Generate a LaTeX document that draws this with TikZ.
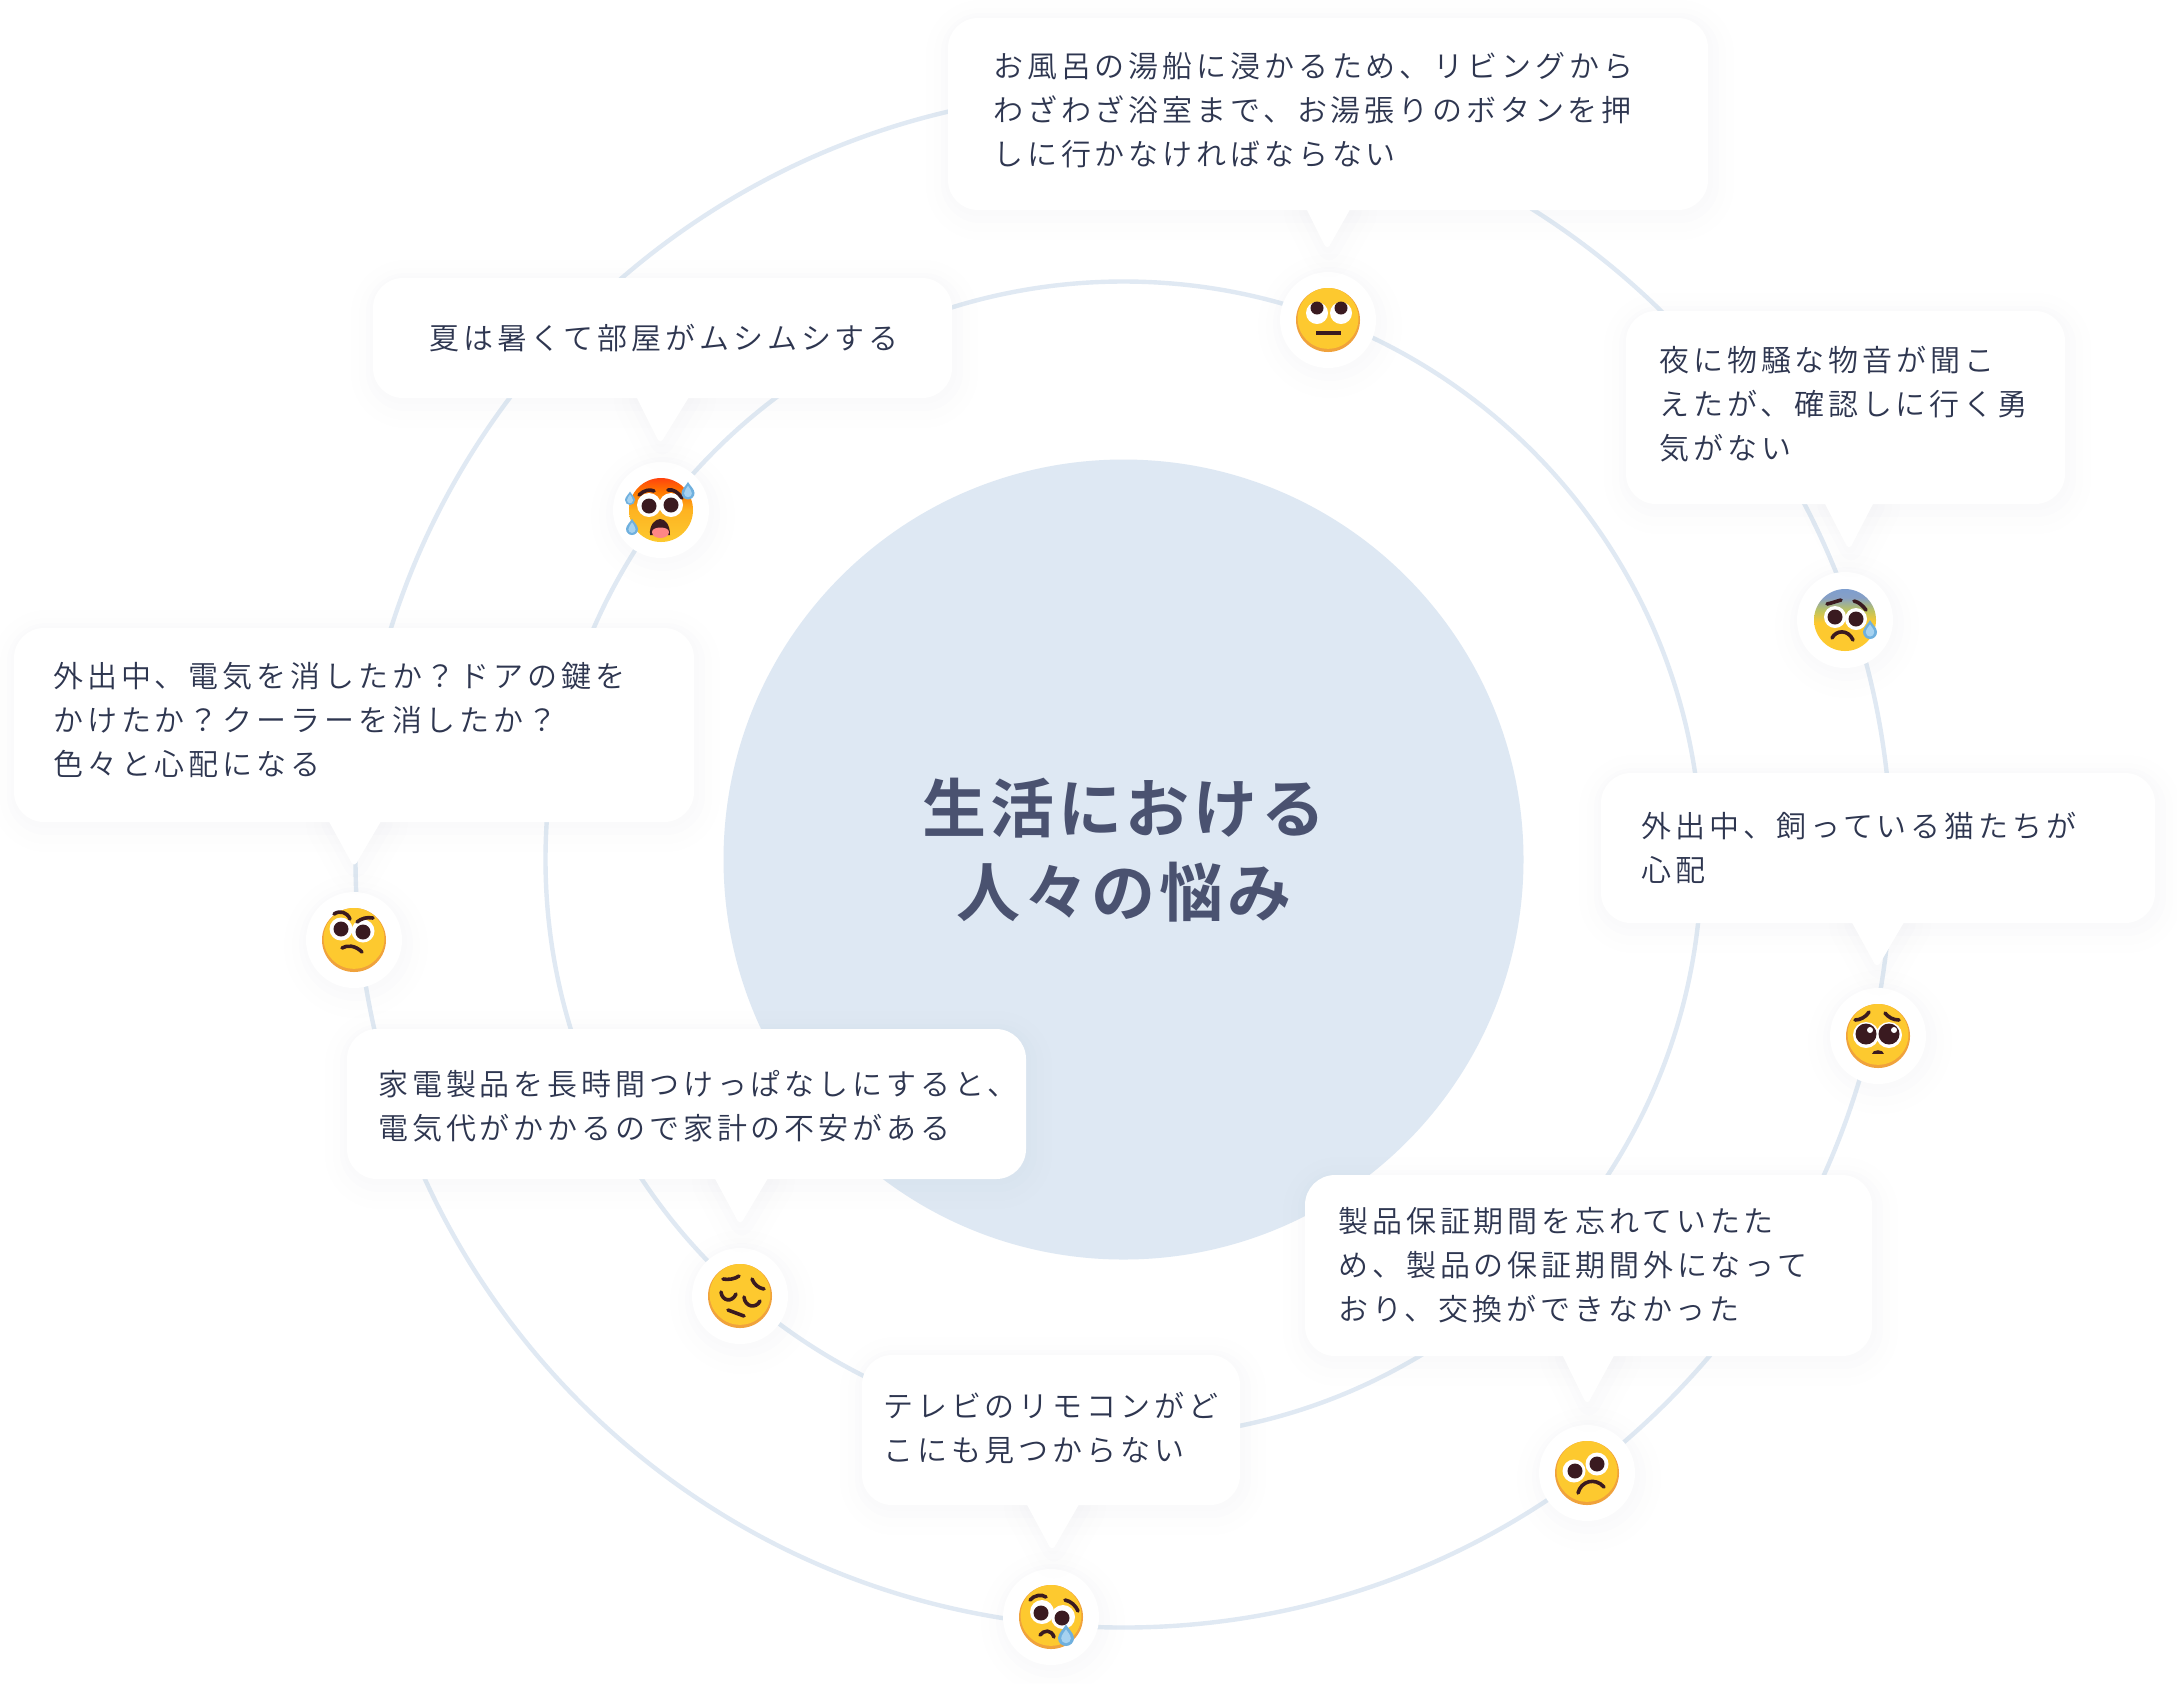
\documentclass[tikz,border=0pt]{standalone}
\usepackage{fontspec}
\newfontfamily\jpbody[LetterSpace=12.9]{Noto Sans CJK JP DemiLight}
\newfontfamily\jptitle[LetterSpace=6]{Noto Sans CJK JP Bold}
\definecolor{ringc}{HTML}{E0E9F3}
\definecolor{hubc}{HTML}{DEE8F3}
\definecolor{titlec}{HTML}{4A5270}
\definecolor{bodyc}{HTML}{2E3650}
\definecolor{sh}{HTML}{5A7090}
\definecolor{rimc}{HTML}{F0A23C}
\definecolor{facec}{HTML}{FDC92F}
\definecolor{pupilc}{HTML}{3A1A20}
\definecolor{dropc}{HTML}{6FB0DE}
\definecolor{dropl}{HTML}{A6D2F0}
\pgfdeclareverticalshading{hotface}{100bp}{color(0bp)=(facec); color(25bp)=(facec); color(50bp)=(facec!70!orange); color(65bp)=(orange!80!red!90!yellow); color(75bp)=(red!55!orange!95!white); color(100bp)=(red!65!orange!90!white)}
\pgfdeclareverticalshading{fearface}{100bp}{color(0bp)=(facec); color(25bp)=(facec); color(48bp)=(facec); color(58bp)=(facec!80!cyan!80!gray); color(68bp)=(cyan!40!blue!35!gray!70!white); color(75bp)=(cyan!40!blue!45!gray!70!white); color(100bp)=(cyan!40!blue!45!gray!70!white)}
\tikzset{
  softshadow/.style={
    preaction={draw=sh,line width=24pt,draw opacity=.004,line join=round,transform canvas={xshift=1pt,yshift=-3pt}},
    preaction={draw=sh,line width=16pt,draw opacity=.005,line join=round,transform canvas={xshift=1pt,yshift=-3pt}},
    preaction={draw=sh,line width=9pt,draw opacity=.006,line join=round,transform canvas={xshift=1pt,yshift=-2pt}},
    preaction={draw=sh,line width=4pt,draw opacity=.005,line join=round,transform canvas={xshift=.5pt,yshift=-1pt}}},
  ringline/.style={circle,draw=ringc,line width=2.2pt,inner sep=0pt,outer sep=0pt},
  hubdisc/.style={circle,fill=hubc,inner sep=0pt,outer sep=0pt,minimum size=400pt},
  cardbox/.style={fill=white,rounded corners=15pt,inner sep=0pt,outer sep=0pt,softshadow},
  tailshape/.style={fill=white,rounded corners=2.5pt},
  cardtext/.style={font=\jpbody\fontsize{15}{22}\selectfont,text=bodyc,align=left,inner sep=0pt,anchor=west},
  titletext/.style={font=\jptitle\fontsize{32}{42}\selectfont,text=titlec,align=center,inner sep=0pt},
  emojidisc/.style={circle,fill=white,minimum size=48pt,inner sep=0pt,outer sep=0pt,softshadow},
  feat/.style={draw=pupilc,line width=1.8pt,line cap=round},
}
% name, x1,y1,x2,y2, tail left, tail right, tip x, tip y
\newcommand\mkcard[9]{%
  \coordinate (#1-a) at (#6,#5-6);
  \coordinate (#1-b) at (#7,#5-6);
  \coordinate (#1-tip) at (#8,#9+3);
  \path[tailshape,softshadow] (#1-a) -- (#1-tip) -- (#1-b) -- cycle;
  \node[cardbox,minimum width={(#4-#2)*.5pt},minimum height={(#5-#3)*.5pt}] (#1) at ({(#2+#4)/2},{(#3+#5)/2}) {};
  \path[tailshape] (#1-a) -- (#1-tip) -- (#1-b) -- cycle;
}
\newcommand\eface{\fill[rimc] (0,0) circle[radius=32];\fill[facec] (0,-1.6) circle[radius=30.4];}
% white centre x,y,r ; pupil x,y,r
\newcommand\eeye[6]{\fill[white] (#1,#2) circle[radius=#3];\fill[pupilc] (#4,#5) circle[radius=#6];}
\newcommand\edrop[3]{\begin{scope}[shift={(#1,#2)},scale=#3]
  \fill[dropc] (0,-1.7) .. controls (.25,-1.2) and (1,-.6) .. (1,0) arc[start angle=0,end angle=180,radius=1] .. controls (-1,-.6) and (-.25,-1.2) .. cycle;
  \fill[dropl] (0,-1.1) .. controls (.15,-.8) and (.6,-.4) .. (.6,.05) arc[start angle=0,end angle=180,radius=.6] .. controls (-.6,-.4) and (-.15,-.8) .. cycle;
\end{scope}}
\begin{document}
\begin{tikzpicture}[x=.5pt,y=-.5pt]
\useasboundingbox[fill=white] (0,0) rectangle (2177,1683);
\node[ringline,minimum size=768pt] (outer) at (1123.5,859.5) {};
\node[ringline,minimum size=578pt] (inner) at (1123.5,859.5) {};
\node[hubdisc] (hub) at (1123.5,859.5) {};
\node[titletext] (title) at (1124,850) {生活における\\人々の悩み};

\node[emojidisc] (e1) at (1328,320) {};
\node[emojidisc] (e2) at (661,510) {};
\node[emojidisc] (e3) at (1845,620) {};
\node[emojidisc] (e4) at (354,940) {};
\node[emojidisc] (e5) at (1878,1036) {};
\node[emojidisc] (e6) at (740,1296) {};
\node[emojidisc] (e7) at (1587,1473) {};
\node[emojidisc] (e8) at (1051,1617) {};

\mkcard{c1}{948}{18}{1708}{210}{1304}{1353}{1327}{247}
\node[cardtext] (t1) at (993,110) {お風呂の湯船に浸かるため、リビングから\\わざわざ浴室まで、お湯張りのボタンを押\\しに行かなければならない};
\mkcard{c2}{373}{278}{952}{398}{634}{692}{660}{441}
\node[cardtext] (t2) at (429,338) {夏は暑くて部屋がムシムシする};
\mkcard{c3}{1626}{311}{2065}{504}{1822}{1876}{1849}{547}
\node[cardtext] (t3) at (1659,404.5) {夜に物騒な物音が聞こ\\えたが、確認しに行く勇\\気がない};
\mkcard{c4}{14}{628}{694}{822}{326}{384}{354}{864}
\node[cardtext] (t4) at (53,720) {外出中、電気を消したか？ドアの鍵を\\かけたか？クーラーを消したか？\\色々と心配になる};
\mkcard{c5}{1601}{773}{2155}{923}{1849}{1907}{1877}{965}
\node[cardtext] (t5) at (1641,848) {外出中、飼っている猫たちが\\心配};
\mkcard{c6}{347}{1029}{1026}{1179}{712}{771}{740}{1222}
\node[cardtext] (t6) at (378,1106) {家電製品を長時間つけっぱなしにすると、\\電気代がかかるので家計の不安がある};
\mkcard{c7}{1305}{1175}{1872}{1356}{1560}{1617}{1587}{1402}
\node[cardtext] (t7) at (1338,1265) {製品保証期間を忘れていたた\\め、製品の保証期間外になって\\おり、交換ができなかった};
\mkcard{c8}{862}{1355}{1240}{1505}{1024}{1082}{1052}{1548}
\node[cardtext] (t8) at (883,1428) {テレビのリモコンがど\\こにも見つからない};

% roll eyes
\begin{scope}[shift={(e1)}]
\eface
\fill[white] (-11,-7) circle[radius=11];\fill[white] (13,-7) circle[radius=11];
\fill[pupilc] (-11,-12) circle[radius=6.5];\fill[pupilc] (13,-12) circle[radius=6.5];
\draw[feat,line width=1.8pt,line cap=butt] (-12,13) -- (13,13);
\end{scope}
% hot
\begin{scope}[shift={(e2)}]
\shade[shading=hotface] (0,0) circle[radius=32];
\eeye{-12}{-5}{12}{-12}{-4}{7.5}
\eeye{10}{-5}{12}{10}{-5}{7.5}
\draw[feat] (-22,-15) .. controls (-17,-20) and (-11,-21) .. (-7,-19);
\draw[feat] (7,-20) .. controls (12,-21) and (17,-18) .. (21,-12);
\fill[pupilc] (-11,25) .. controls (-12,14) and (-5,9) .. (-1,9) .. controls (4,9) and (9,14) .. (9,25) -- cycle;
\fill[pink!70!red] (-9,22) .. controls (-9,16) and (8,16) .. (8,22) .. controls (8,30) and (-9,30) .. (-9,22) -- cycle;
\edrop{27}{-17}{6.5}
\edrop{-31}{-10}{5}
\edrop{-29}{19}{6}
\end{scope}
% fear
\begin{scope}[shift={(e3)}]
\shade[shading=fearface] (0,0) circle[radius=31];
\eeye{-10}{-3}{11}{-10}{-3}{7.5}
\eeye{11}{-1}{11}{11}{-1}{7.5}
\draw[feat] (-18,-16) .. controls (-13,-17) and (-8,-19) .. (-4,-20);
\draw[feat] (9,-19) .. controls (14,-18) and (18,-14) .. (21,-10);
\draw[feat] (-13,18) .. controls (-9,10) and (3,9) .. (8,20);
\edrop{25}{12}{7}
\end{scope}
% raised brow
\begin{scope}[shift={(e4)}]
\eface
\eeye{-13}{-11}{11.5}{-13}{-11}{7.5}
\eeye{9}{-9}{11.5}{9}{-8}{7.5}
\draw[feat] (-20,-26) .. controls (-14,-30) and (-7,-28) .. (-4,-21);
\draw[feat] (3,-18) .. controls (8,-22) and (13,-23) .. (19,-22);
\draw[feat] (-12,8) .. controls (-7,5) and (1,5) .. (8,12);
\end{scope}
% pleading
\begin{scope}[shift={(e5)}]
\eface
\fill[white] (-12,-1) circle[radius=13];\fill[white] (11,-1) circle[radius=13];
\fill[pupilc] (-12,-2) circle[radius=10.5];\fill[pupilc] (11,-2) circle[radius=10.5];
\fill[white] (-8,-6) circle[radius=3];\fill[white] (16,-6) circle[radius=3];
\draw[feat] (-23,-16) .. controls (-18,-16) and (-12,-19) .. (-9,-24);
\draw[feat] (7,-23) .. controls (10,-19) and (15,-16) .. (21,-16);
\fill[pupilc] (-6,18) .. controls (-6,13) and (6,13) .. (6,18) -- cycle;
\end{scope}
% pensive
\begin{scope}[shift={(e6)}]
\eface
\draw[feat] (-17,-17) .. controls (-12,-16) and (-5,-17) .. (-1,-20);
\draw[feat] (12,-17) .. controls (14,-12) and (18,-8) .. (24,-7);
\draw[feat] (-19,-4) .. controls (-18,5) and (-8,7) .. (-4,-2);
\draw[feat] (4,1) .. controls (5,11) and (16,13) .. (20,5);
\draw[feat] (-12,14) -- (4,20);
\end{scope}
% worried
\begin{scope}[shift={(e7)}]
\eface
\eeye{-13}{-2}{11.5}{-12}{-2}{7.5}
\eeye{10}{-9}{11.5}{10}{-9}{7.5}
\draw[feat] (-9,20) .. controls (-6,8) and (8,4) .. (17,14);
\end{scope}
% crying
\begin{scope}[shift={(e8)}]
\eface
\eeye{-9}{-5}{12}{-10}{-4}{7.5}
\eeye{12}{0}{12}{11}{1}{7.5}
\draw[feat] (-21,-17) .. controls (-17,-22) and (-9,-23) .. (-5,-20);
\draw[feat] (14,-17) .. controls (20,-16) and (25,-11) .. (27,-6);
\draw[feat] (-11,18) .. controls (-7,13) and (0,12) .. (3,20);
\edrop{15}{21}{8}
\end{scope}
\end{tikzpicture}
\end{document}
